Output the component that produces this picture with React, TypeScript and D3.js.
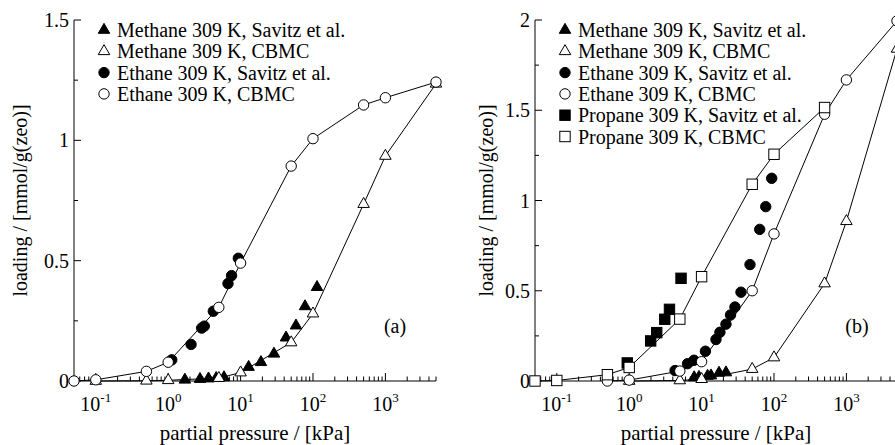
import React from "react";
import * as d3 from "d3";

// ---------- Panel (a) data ----------
const aMethaneSavitzP = [1.7, 2.75, 3.6, 4.6, 5.9, 12.9, 19.1, 28.9, 42.4, 58.2, 77.6, 113.6];
const aMethaneSavitzL = [0.005, 0.008, 0.01, 0.012, 0.015, 0.058, 0.078, 0.113, 0.18, 0.23, 0.31, 0.39];
const aMethaneCbmcP = [0.1, 0.5, 1, 5, 10, 50, 100, 500, 1000, 5000];
const aMethaneCbmcL = [0, 0.001, 0.003, 0.012, 0.035, 0.16, 0.28, 0.735, 0.935, 1.235];
const aEthaneSavitzP = [1.12, 2.07, 2.9, 3.15, 4.2, 6.7, 7.5, 9.3];
const aEthaneSavitzL = [0.088, 0.152, 0.22, 0.228, 0.29, 0.405, 0.438, 0.51];
const aEthaneCbmcP = [0.05, 0.1, 0.5, 1, 5, 10, 50, 100, 500, 1000, 5000];
const aEthaneCbmcL = [0, 0.005, 0.04, 0.078, 0.306, 0.49, 0.893, 1.007, 1.147, 1.177, 1.242];

// ---------- Panel (b) data ----------
const bMethaneSavitzP = [7.9, 9.2, 12.1, 13.5, 17.4, 21.7];
const bMethaneSavitzL = [0.02, 0.022, 0.028, 0.03, 0.045, 0.047];
const bMethaneCbmcP = [1, 5, 10, 50, 100, 500, 1000, 5000];
const bMethaneCbmcL = [0, 0.003, 0.01, 0.066, 0.13, 0.54, 0.885, 1.84];
const bEthaneSavitzP = [4.3, 6.4, 7.85, 11.3, 15.8, 17.9, 21.7, 25.1, 28.9, 35, 46.6, 63.5, 76.9, 93];
const bEthaneSavitzL = [0.058, 0.096, 0.115, 0.165, 0.23, 0.27, 0.315, 0.366, 0.41, 0.492, 0.645, 0.84, 0.966, 1.123];
const bEthaneCbmcP = [0.5, 1, 5, 10, 50, 100, 500, 1000, 5000];
const bEthaneCbmcL = [0, 0.005, 0.055, 0.107, 0.5, 0.815, 1.478, 1.668, 1.995];
const bPropaneSavitzP = [0.94, 1.98, 2.4, 3.1, 3.6, 5.2];
const bPropaneSavitzL = [0.1, 0.222, 0.268, 0.342, 0.397, 0.569];
const bPropaneCbmcP = [0.05, 0.1, 0.5, 1, 5, 10, 50, 100, 500];
const bPropaneCbmcL = [0, 0.003, 0.035, 0.075, 0.343, 0.578, 1.09, 1.256, 1.515];

// ---------- labels ----------
const legendA = [
  "Methane 309 K, Savitz et al.",
  "Methane 309 K, CBMC",
  "Ethane 309 K, Savitz et al.",
  "Ethane 309 K, CBMC",
];
const legendB = [
  "Methane 309 K, Savitz et al.",
  "Methane 309 K, CBMC",
  "Ethane 309 K, Savitz et al.",
  "Ethane 309 K, CBMC",
  "Propane 309 K, Savitz et al.",
  "Propane 309 K, CBMC",
];
const xDecades = [-1, 0, 1, 2, 3];
const yTicksA = [0, 0.5, 1, 1.5];
const yTicksB = [0, 0.5, 1, 1.5, 2];
const xTitle = "partial pressure / [kPa]";
const yTitle = "loading / [mmol/g(zeo)]";

const FONT = "Liberation Serif, Times New Roman, Times, serif";

type Shape = "triangle" | "circle" | "square";

function Marker({ shape, filled, x, y }: { shape: Shape; filled: boolean; x: number; y: number }) {
  const fill = filled ? "black" : "white";
  if (shape === "circle") {
    return <circle cx={x} cy={y} r={5.2} fill={fill} stroke="black" strokeWidth={1} />;
  }
  if (shape === "square") {
    const s = 10.4;
    return <rect x={x - s / 2} y={y - s / 2} width={s} height={s} fill={fill} stroke="black" strokeWidth={1} />;
  }
  const side = 11.5;
  const h = side * 0.866;
  const p = `M${x},${y - (2 * h) / 3}L${x + side / 2},${y + h / 3}L${x - side / 2},${y + h / 3}Z`;
  return <path d={p} fill={fill} stroke="black" strokeWidth={1} />;
}

type Series = { p: number[]; l: number[]; shape: Shape; filled: boolean; line: boolean };

function Panel({
  x0, x1, yMax, yTicks, series, legend, label, labelX, yTitleX,
}: {
  x0: number; x1: number; yMax: number; yTicks: number[]; series: Series[];
  legend: string[]; label: string; labelX: number; yTitleX: number;
}) {
  const yTop = 20, yBot = 381;
  const x = d3.scaleLog().domain([0.05, 5000]).range([x0, x1]);
  const y = d3.scaleLinear().domain([0, yMax]).range([yBot, yTop]);
  const line = d3.line<[number, number]>().x((d) => x(d[0])).y((d) => y(d[1]));

  const minorX: number[] = [];
  for (let e = -2; e <= 3; e++) {
    for (let k = 2; k <= 9; k++) {
      const v = k * Math.pow(10, e);
      if (v >= 0.05 && v <= 5000) minorX.push(v);
    }
  }
  const minorY: number[] = [];
  for (let v = 0.25; v < yMax; v += 0.5) minorY.push(v);

  const fmt = (v: number) => (v === 0 ? "0" : d3.format("~g")(v));

  return (
    <g style={{ fontFamily: FONT }} fill="black">
      {/* axes */}
      <line x1={x0} x2={x0} y1={yTop} y2={yBot} stroke="black" strokeWidth={1} />
      <line x1={x0} x2={x1} y1={yBot} y2={yBot} stroke="black" strokeWidth={1} />
      {yTicks.map((t) => (
        <g key={"yt" + t}>
          <line x1={x0} x2={x0 + 7} y1={y(t)} y2={y(t)} stroke="black" />
          <text x={x0 - 5} y={y(t)} dy="0.35em" textAnchor="end" fontSize={20}>{fmt(t)}</text>
        </g>
      ))}
      {minorY.map((t) => (
        <line key={"ym" + t} x1={x0} x2={x0 + 4} y1={y(t)} y2={y(t)} stroke="black" />
      ))}
      {xDecades.map((e) => (
        <g key={"xt" + e}>
          <line x1={x(Math.pow(10, e))} x2={x(Math.pow(10, e))} y1={yBot} y2={yBot - 8} stroke="black" />
          <text x={x(Math.pow(10, e))} y={411} textAnchor="middle" fontSize={20}>
            10<tspan fontSize={13} dy={-9}>{e}</tspan>
          </text>
        </g>
      ))}
      {minorX.map((v) => (
        <line key={"xm" + v} x1={x(v)} x2={x(v)} y1={yBot} y2={yBot - 4.5} stroke="black" />
      ))}
      {/* titles */}
      <text x={(x0 + x1) / 2} y={440} textAnchor="middle" fontSize={21}>{xTitle}</text>
      <text transform={`translate(${yTitleX},${(yTop + yBot) / 2}) rotate(-90)`} textAnchor="middle" fontSize={20}>{yTitle}</text>
      <text x={labelX} y={333} textAnchor="middle" fontSize={20}>{label}</text>
      {/* lines */}
      {series.filter((s) => s.line).map((s, i) => (
        <path key={"ln" + i} d={line(s.p.map((p, j) => [p, s.l[j]] as [number, number])) || ""} fill="none" stroke="black" strokeWidth={1} />
      ))}
      {/* markers */}
      {series.map((s, i) => (
        <g key={"mk" + i}>
          {s.p.map((p, j) => (
            <Marker key={j} shape={s.shape} filled={s.filled} x={x(p)} y={y(s.l[j])} />
          ))}
        </g>
      ))}
      {/* legend */}
      {legend.map((t, i) => {
        const ly = 30 + i * 21.3;
        const s = series[i];
        return (
          <g key={"lg" + i}>
            <Marker shape={s.shape} filled={s.filled} x={x0 + 30} y={ly} />
            <text x={x0 + 43} y={ly} dy="0.35em" fontSize={20}>{t}</text>
          </g>
        );
      })}
    </g>
  );
}

export default function App() {
  const seriesA: Series[] = [
    { p: aMethaneSavitzP, l: aMethaneSavitzL, shape: "triangle", filled: true, line: false },
    { p: aMethaneCbmcP, l: aMethaneCbmcL, shape: "triangle", filled: false, line: true },
    { p: aEthaneSavitzP, l: aEthaneSavitzL, shape: "circle", filled: true, line: false },
    { p: aEthaneCbmcP, l: aEthaneCbmcL, shape: "circle", filled: false, line: true },
  ];
  const seriesB: Series[] = [
    { p: bMethaneSavitzP, l: bMethaneSavitzL, shape: "triangle", filled: true, line: false },
    { p: bMethaneCbmcP, l: bMethaneCbmcL, shape: "triangle", filled: false, line: true },
    { p: bEthaneSavitzP, l: bEthaneSavitzL, shape: "circle", filled: true, line: false },
    { p: bEthaneCbmcP, l: bEthaneCbmcL, shape: "circle", filled: false, line: true },
    { p: bPropaneSavitzP, l: bPropaneSavitzL, shape: "square", filled: true, line: false },
    { p: bPropaneCbmcP, l: bPropaneCbmcL, shape: "square", filled: false, line: true },
  ];
  return (
    <svg width={895} height={445} style={{ position: "absolute", left: 0, top: 0, background: "white" }}>
      <rect width={895} height={445} fill="white" />
      <Panel x0={74} x1={436} yMax={1.5} yTicks={yTicksA} series={seriesA} legend={legendA} label="(a)" labelX={395} yTitleX={27} />
      <Panel x0={535} x1={897} yMax={2} yTicks={yTicksB} series={seriesB} legend={legendB} label="(b)" labelX={857} yTitleX={493} />
    </svg>
  );
}
